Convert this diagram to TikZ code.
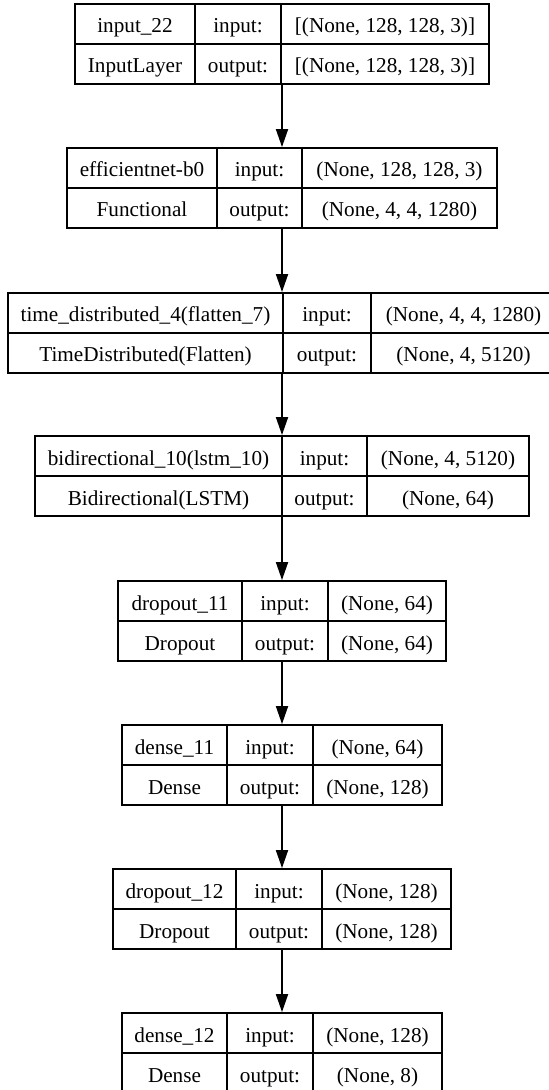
\documentclass[tikz,border=0pt]{standalone}
\usepackage{fontspec}
\setmainfont{Liberation Serif}
\usetikzlibrary{arrows.meta}

\tikzset{
	layer/.style={draw, line width=0.9pt, inner sep=0pt, minimum height=40pt},
	cell/.style={anchor=base, inner sep=0pt, font=\fontsize{10.6}{12}\selectfont},
	flow/.style={line width=0.9pt, -{Triangle[width=6pt,length=9pt]}}
}

\newcommand{\kerasrow}[9]{%
	\node[layer, minimum width={(#5-282)*1pt}] (#1) at (282,{#2+40}) {};
	\draw[line width=0.9pt] ({564-#5},{#2+40}) -- (#5,{#2+40});
	\draw[line width=0.9pt] (#3,#2) -- (#3,{#2+80}) (#4,#2) -- (#4,{#2+80});
	\node[cell] (#1-name) at ({(564-#5+#3)/2},{#2+29}) {#6};
	\node[cell] (#1-class) at ({(564-#5+#3)/2},{#2+69}) {#7};
	\node[cell] (#1-inlbl) at ({(#3+#4)/2},{#2+29}) {input:};
	\node[cell] (#1-outlbl) at ({(#3+#4)/2},{#2+69}) {output:};
	\node[cell] (#1-in) at ({(#4+#5)/2},{#2+29}) {#8};
	\node[cell] (#1-out) at ({(#4+#5)/2},{#2+69}) {#9};
}

\begin{document}
\begin{tikzpicture}[x=0.5pt, y=-0.5pt]
	\useasboundingbox (0,0) rectangle (549,1090);
	\clip (0,0) rectangle (549,1090);
	\fill[white] (0,0) rectangle (549,1090);
	
	\kerasrow{inp}{4}{195}{281}{489}{input\_22}{InputLayer}{[(None, 128, 128, 3)]}{[(None, 128, 128, 3)]}
	\kerasrow{eff}{148}{217}{302}{497}{efficientnet-b0}{Functional}{(None, 128, 128, 3)}{(None, 4, 4, 1280)}
	\kerasrow{td}{293}{283}{371}{556}{time\_distributed\_4(flatten\_7)}{TimeDistributed(Flatten)}{(None, 4, 4, 1280)}{(None, 4, 5120)}
	\kerasrow{bi}{436}{282}{367}{529}{bidirectional\_10(lstm\_10)}{Bidirectional(LSTM)}{(None, 4, 5120)}{(None, 64)}
	\kerasrow{dropa}{581}{242}{328}{446}{dropout\_11}{Dropout}{(None, 64)}{(None, 64)}
	\kerasrow{densea}{725}{227}{313}{442}{dense\_11}{Dense}{(None, 64)}{(None, 128)}
	\kerasrow{dropb}{869}{236}{322}{451}{dropout\_12}{Dropout}{(None, 128)}{(None, 128)}
	\kerasrow{denseb}{1013}{227}{313}{442}{dense\_12}{Dense}{(None, 128)}{(None, 8)}
	
	\draw[flow] (inp) -- (eff);
	\draw[flow] (eff) -- (td);
	\draw[flow] (td) -- (bi);
	\draw[flow] (bi) -- (dropa);
	\draw[flow] (dropa) -- (densea);
	\draw[flow] (densea) -- (dropb);
	\draw[flow] (dropb) -- (denseb);
	
\end{tikzpicture}
\end{document}
